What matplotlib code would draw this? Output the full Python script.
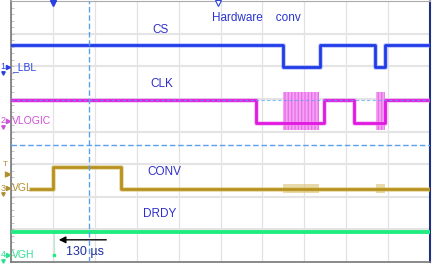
import numpy as np
import matplotlib.pyplot as plt

plt.rcParams['font.family'] = ['Liberation Sans', 'DejaVu Sans']

# time axis in microseconds (150 us/div), y in divisions (0..8)
cs_t = [-150, 825, 825, 955, 955, 1152, 1152, 1188, 1188, 1350]
cs_v = [6.66, 6.66, 5.98, 5.98, 6.66, 6.66, 5.98, 5.98, 6.66, 6.66]

clk_t = [-150, 728, 728, 969, 969, 1077, 1077, 1188, 1188, 1350]
clk_v = [4.98, 4.98, 4.27, 4.27, 4.98, 4.98, 4.27, 4.27, 4.98, 4.98]
clk_bursts = [(825, 951), (1155, 1188)]
burst_lo, burst_hi = 4.05, 5.2

conv_t = [-80, 0, 0, 244, 244, 1350]
conv_v = [2.23, 2.23, 2.9, 2.9, 2.23, 2.23]

drdy_t1 = [-150, 0]
drdy_t2 = [11, 1350]
drdy_v = 0.92
drdy_dip = 0.2

cursor_t = 130
cursor_y = 3.6

labels = [("CS", 384, 7.1), ("CLK", 391, 5.45), ("CONV", 398, 2.77), ("DRDY", 384, 1.48)]

fig = plt.figure(figsize=(4.32, 2.64), dpi=100)
ax = fig.add_axes([11/432, 2/264, 419/432, 261/264])
ax.set_xlim(-150, 1350)
ax.set_ylim(0, 8)

# grid
for gx in np.arange(-150, 1351, 150):
    ax.axvline(gx, color='#e2e2e2', lw=0.9, zorder=0)
for gy in range(1, 8):
    ax.axhline(gy, color='#e4e4e4', lw=1.5, zorder=0)
ax.set_xticks([])
ax.set_yticks([])
ax.set_yticks(np.arange(0, 8, 0.2), minor=True)
ax.tick_params(axis='y', which='minor', direction='in', length=2, color='#bbbbbb')
for s in ['left', 'bottom']:
    ax.spines[s].set_color('#777777')
    ax.spines[s].set_linewidth(1.2)
ax.spines['top'].set_color('#aaaaaa')
ax.spines['right'].set_color('#203080')
ax.spines['right'].set_linestyle((0, (1, 1)))
ax.spines['right'].set_linewidth(1.5)

# traces
ax.plot(cs_t, cs_v, color='#8090ff', lw=3.4, alpha=0.5, zorder=3)
ax.plot(cs_t, cs_v, color='#1f3ce8', lw=2.0, zorder=4)

for a, b in clk_bursts:
    ax.fill_between([a, b], burst_lo, burst_hi, facecolor='#f4a4f4', edgecolor='#ea70ea',
                    hatch='|||||', lw=0, zorder=3)
ax.plot(clk_t, clk_v, color='#f08af0', lw=3.4, alpha=0.5, zorder=3)
ax.plot(clk_t, clk_v, color='#e018e0', lw=2.0, zorder=4)

ax.plot(conv_t, conv_v, color='#d8c070', lw=3.4, alpha=0.6, zorder=3)
ax.plot(conv_t, conv_v, color='#b8921e', lw=2.0, zorder=4)
for a, b in clk_bursts:
    ax.fill_between([a, b], 2.1, 2.38, color='#d8c070', alpha=0.6, lw=0, zorder=3)

ax.plot(drdy_t1, [drdy_v] * 2, color='#20ec80', lw=2.8, zorder=4)
ax.plot(drdy_t2, [drdy_v] * 2, color='#20ec80', lw=2.8, zorder=4)
ax.plot([3, 3], [drdy_v, drdy_dip], color='#b8ecd0', lw=0.8, zorder=3)
ax.plot([3], [drdy_dip], marker='s', ms=2, color='#20ec80', zorder=4)

# cursors
ax.axvline(cursor_t, color='#5aa0f0', lw=1.0, ls=(0, (4, 2)), zorder=5)
ax.axhline(cursor_y, color='#5aa0f0', lw=1.0, ls=(0, (4, 2)), zorder=5)
ax.axhline(4.98, color='#5aa0f0', lw=0.8, ls=(0, (3, 2)), alpha=0.7, zorder=5)

# text labels
for txt, tx, ty in labels:
    ax.text(tx, ty, txt, color='#3030c8', fontsize=8.5, ha='center', va='center', zorder=6)
ax.text(570, 7.48, "Hardware    conv", color='#2a34d0', fontsize=8.5, ha='left', va='center')

ax.annotate("", xy=(11, 0.68), xytext=(201, 0.68),
            arrowprops=dict(arrowstyle='-|>', color='black', lw=1.0, mutation_scale=10))
ax.text(47, 0.31, "130 µs", color='#2030a0', fontsize=9, ha='left', va='center', zorder=6)

# channel markers on the left
chans = [("1", "_LBL", 5.98, '#2a40e0'), ("2", "VLOGIC", 4.33, '#d050d8'),
         ("3", "VGL", 2.26, '#b09030'), ("4", "VGH", 0.22, '#30e090')]
for num, name, y, c in chans:
    ax.text(-178, y, num, color=c, fontsize=6.5, ha='center', va='center', clip_on=False)
    ax.plot([-160], [y], marker='>', ms=3, color=c, clip_on=False, zorder=6)
    ax.plot([-178], [y - 0.18], marker='v', ms=2.5, color=c, clip_on=False, zorder=6)
    ax.text(-146, y, name, color=c, fontsize=7.5, ha='left', va='center', zorder=6)
ax.text(-170, 3.0, "T", color='#b09030', fontsize=6, ha='center', va='center', clip_on=False)
ax.plot([-162], [2.7], marker='>', ms=3, color='#b09030', clip_on=False, zorder=6)
ax.plot([-171], [2.7], marker='|', ms=4, color='#b09030', clip_on=False, zorder=6)

# top markers
ax.plot([0], [7.93], marker='v', ms=5, color='#2a40e0', clip_on=False, zorder=7)
ax.plot([590], [7.93], marker='v', ms=4, mfc='white', mec='#2a40e0', mew=0.8, clip_on=False, zorder=7)

fig.savefig("out.png", dpi=100)
